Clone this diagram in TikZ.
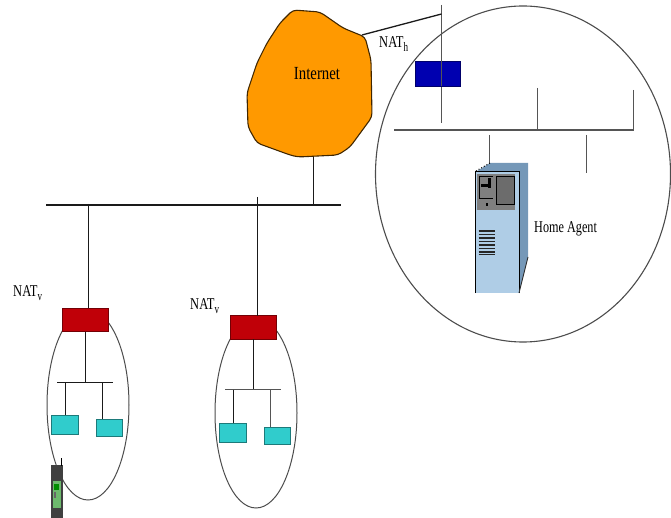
\documentclass[tikz,border=0pt]{standalone}
\usepackage{fontspec}
\setmainfont{Liberation Serif}
\definecolor{cRed}{HTML}{C00008}
\definecolor{cBlue}{HTML}{0000B0}
\definecolor{cTeal}{HTML}{30CCCC}
\definecolor{cOrange}{HTML}{FF9900}
\definecolor{cFront}{HTML}{AFCDE6}
\definecolor{cSide}{HTML}{7598B8}
\definecolor{cPanel}{HTML}{7F7F7F}
\definecolor{cLine}{HTML}{1A1A1A}
\definecolor{cGrayLine}{HTML}{555555}
\tikzset{
  wire/.style={draw=cLine,line width=1.1pt},
  gwire/.style={draw=cGrayLine,line width=1.2pt},
  bus/.style={draw=cLine,line width=1.5pt},
  gbus/.style={draw=cGrayLine,line width=1.8pt},
  boxbase/.style={draw=#1!60!black,line width=0.9pt,fill=#1,inner sep=0pt,outer sep=0pt,rectangle},
  natred/.style={boxbase=cRed,minimum width=46pt,minimum height=23.5pt},
  natblue/.style={boxbase=cBlue,minimum width=45pt,minimum height=25pt},
  hostA/.style={boxbase=cTeal,minimum width=27pt,minimum height=19pt},
  hostB/.style={boxbase=cTeal,minimum width=26pt,minimum height=17pt},
  zone/.style={draw=black!70,line width=1pt},
  lbl/.style={inner sep=0pt,text=black,font=\fontsize{16.5}{16.5}\selectfont},
}
\newcommand{\cond}[2][0.78]{\scalebox{#1}[1]{#2}}
\newcommand{\natlabel}[1]{\cond[0.76]{NAT}\raisebox{-4pt}{\fontsize{13}{13}\selectfont\cond[0.7]{#1}}}
\begin{document}
\begin{tikzpicture}[x=1pt,y=-1pt]
\useasboundingbox (0,0) rectangle (671,518);
% zones
\draw[zone,line width=1.1pt] (523,174) ellipse [x radius=147.5,y radius=168];
\draw[zone] (88,405) ellipse [x radius=41,y radius=95];
\draw[zone] (256,413) ellipse [x radius=41,y radius=95];
% internet cloud
\draw[fill=cOrange,draw=black!75!cOrange,line width=1.1pt,rounded corners=4pt]
  (293,10) -- (320,12) -- (343,28) -- (365,37) -- (371,60) -- (372,117) -- (350,147) -- (338,155)
  -- (298,157) -- (290,155) -- (257,143) -- (248,127) -- (247,93) -- (257,63) -- (267,43) -- (280,23) -- cycle;
\node[lbl,font=\fontsize{18.5}{18.5}\selectfont] (internet) at (317,74) {\cond[0.8]{Internet}};
% coordinates
\coordinate (cloudNE) at (362,35);
\coordinate (cloudS) at (313.5,157);
\coordinate (hTop) at (441.5,5);
\coordinate (hElbow) at (441.5,14);
\coordinate (hBot) at (441.5,123);
\coordinate (busW) at (46,205);
\coordinate (busE) at (341,205);
\coordinate (busJ) at (313.5,205);
\coordinate (dropA) at (88.5,204);
\coordinate (dropB) at (257.5,197);
\coordinate (homeW) at (394,130);
\coordinate (homeE) at (634,130);
\coordinate (p1t) at (537.5,88);
\coordinate (p1b) at (537.5,129);
\coordinate (p2t) at (633.5,90);
\coordinate (p2b) at (633.5,130);
\coordinate (p3t) at (489.5,135);
\coordinate (p3b) at (489.5,165);
\coordinate (p4t) at (586.5,135);
\coordinate (p4b) at (586.5,173);
% home network
\draw[gwire] (hTop) -- (hBot);
\draw[wire,line width=1.3pt] (cloudNE) -- (hElbow);
\node[natblue] (natH) at (437.5,73.5) {};
\draw[gwire] (natH.north -| hTop) -- (natH.south -| hTop);
\draw[gbus] (homeW) -- (homeE);
\draw[gwire] (p1t) -- (p1b);
\draw[gwire] (p2t) -- (p2b);
\draw[gwire] (p3t) -- (p3b);
\draw[gwire] (p4t) -- (p4b);
% backbone
\draw[bus] (busW) -- (busE);
\draw[wire] (cloudS) -- (busJ);
% left NAT network
\node[natred] (natA) at (85,320) {};
\draw[wire] (dropA) -- (natA.north -| dropA);
\coordinate (barAw) at (57,382.5);
\coordinate (barAe) at (113,382.5);
\coordinate (barAj) at (85.5,382.5);
\coordinate (barA1) at (65.5,382.5);
\coordinate (barA2) at (102.5,382.5);
\draw[wire] (natA.south -| barAj) -- (barAj);
\draw[bus] (barAw) -- (barAe);
\node[hostA] (hostA1) at (64.5,424.5) {};
\node[hostB] (hostA2) at (109,427.5) {};
\draw[wire] (barA1) -- (barA1 |- hostA1.north);
\draw[wire] (barA2) -- (barA2 |- hostA2.north);
% right NAT network
\node[natred] (natB) at (253.5,327.5) {};
\draw[wire] (dropB) -- (natB.north -| dropB);
\coordinate (barBw) at (225,389.5);
\coordinate (barBe) at (281,389.5);
\coordinate (barBj) at (253.5,389.5);
\coordinate (barB1) at (233.5,389.5);
\coordinate (barB2) at (270.5,389.5);
\draw[wire] (natB.south) -- (barBj);
\draw[gbus] (barBw) -- (barBe);
\node[hostA] (hostB1) at (232.5,432.5) {};
\node[hostB] (hostB2) at (277,435.5) {};
\draw[wire] (barB1) -- (barB1 |- hostB1.north);
\draw[gwire] (barB2) -- (barB2 |- hostB2.north);
% labels
\node[lbl,anchor=west] (labH) at (379,44) {\natlabel{h}};
\node[lbl,anchor=west] (labA) at (13,293) {\natlabel{v}};
\node[lbl,anchor=west] (labB) at (190,306) {\natlabel{v}};
\node[lbl,anchor=west] (labHA) at (534,229) {\cond[0.74]{Home Agent}};
% server
\fill[cSide] (490,163) -- (528,163) -- (528,257) -- (519,293) -- (475.5,172) -- cycle;
\fill[cFront] (475.5,172) rectangle (519,293);
\draw[black,line width=1pt] (475.5,293) -- (475.5,172) -- (519,172) -- (519,293);
\draw[black!80,line width=0.9pt] (519,293) -- (528,257);
\fill[cPanel] (477,174) rectangle (515,210);
\draw[black,fill=cPanel!85!black,line width=1pt] (496.5,177) rectangle (514,205);
\draw[black,line width=1pt] (479,176.5) -- (479,199) -- (493,199);
\draw[black,line width=1pt] (479,176.5) -- (493,176.5);
\fill[black] (481,184) rectangle (490,187);
\fill[black] (488,178) rectangle (491,188);
\fill[black] (485.5,203) rectangle (487.5,206);
\foreach \yy in {231,234.5,238,241.5,245,248.5,252,254.5}
  \draw[black!85,line width=1.3pt] (478.5,\yy) -- (495,\yy);
\draw[black,line width=1pt,dotted] (476,171) -- (490,163);
% phone
\fill[black!75] (51,465) rectangle (62.5,518);
\draw[black,line width=1.2pt] (61.5,458) -- (61.5,466);
\fill[green!35!gray!85!white] (53,481) rectangle (60.5,508);
\fill[green!55!black] (54,484) rectangle (59,490);
\fill[black!60] (54,492) rectangle (56,498);
\end{tikzpicture}
\end{document}
